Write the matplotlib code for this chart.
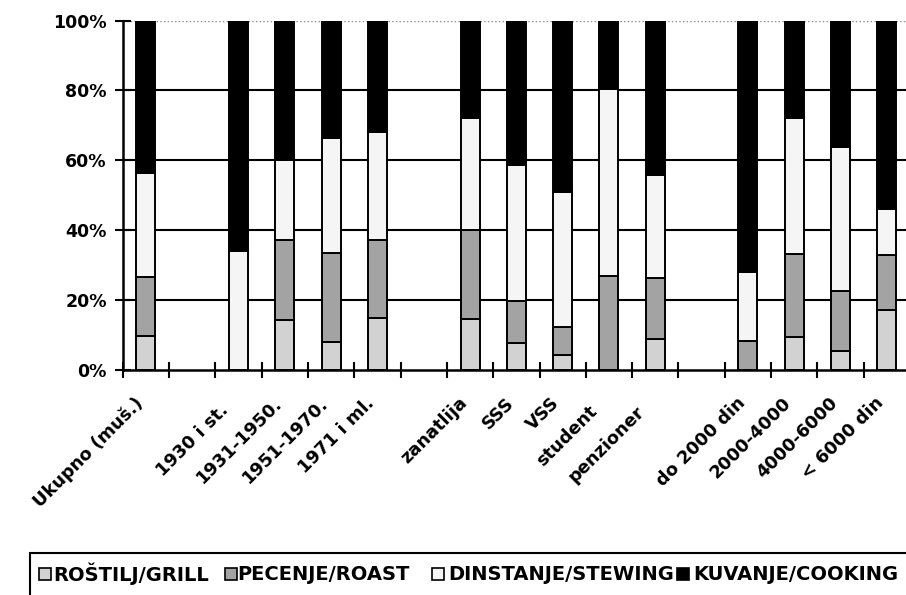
import numpy as np
import matplotlib
matplotlib.use("Agg")
import matplotlib.pyplot as plt
from matplotlib.patches import Rectangle
from matplotlib.transforms import ScaledTranslation

plt.rcParams['font.family'] = ['DejaVu Sans']
plt.rcParams['font.weight'] = 'bold'

# categories ('' = empty slot between groups)
categories = ['Ukupno (muš.)', '', '1930 i st.', '1931-1950.', '1951-1970.', '1971 i ml.', '',
              'zanatlija', 'SSS', 'VSS', 'student', 'penzioner', '',
              'do 2000 din', '2000-4000', '4000-6000', '< 6000 din']

# shares in %
grill   = [9.7, 0, 0.0, 14.3, 8.1, 15.0, 0, 14.6, 7.8, 4.3, 0.0, 8.8, 0, 0.0, 9.5, 5.4, 17.3]
roast   = [17.0, 0, 0.0, 23.0, 25.5, 22.3, 0, 25.4, 11.9, 8.1, 26.9, 17.4, 0, 8.4, 23.8, 17.3, 15.6]
stewing = [29.8, 0, 34.0, 22.7, 32.9, 30.8, 0, 32.2, 38.9, 38.4, 53.4, 29.5, 0, 19.5, 38.9, 41.1, 13.1]
cooking = [43.5, 0, 66.0, 40.0, 33.5, 31.9, 0, 27.8, 41.4, 49.2, 19.7, 44.3, 0, 72.1, 27.8, 36.2, 54.0]

series = [grill, roast, stewing, cooking]
names = ['ROŠTILJ/GRILL', 'PECENJE/ROAST', 'DINSTANJE/STEWING', 'KUVANJE/COOKING']
colors = ['#d2d2d2', '#a3a3a3', '#f5f5f5', '#000000']

# some labels sit a bit further down their slant in the original (px along text)
label_nudge = [0, 0, 10, 0, 0, 0, 0, 0, 0, 0, 12, 12, 0, 0, 0, 0, 0]

W, H = 906, 595
fig = plt.figure(figsize=(W / 100, H / 100), dpi=100)
ax = fig.add_axes([122.7 / W, 1 - 370 / H, (910 - 122.7) / W, (370 - 20.5) / H])

x = np.arange(len(categories))
bottom = np.zeros(len(categories))
for vals, c in zip(series, colors):
    v = np.array(vals, dtype=float)
    mask = v > 0
    ax.bar(x[mask], v[mask], bottom=bottom[mask], width=0.41, color=c,
           edgecolor='black', linewidth=1.4, zorder=3)
    bottom += v

ax.set_xlim(-0.5, len(categories) - 0.5)
ax.set_ylim(0, 100)
ax.set_yticks(np.arange(0, 101, 20))
ax.set_yticklabels([f'{t}%' for t in range(0, 101, 20)], fontsize=12.5, fontweight='bold')
for t in range(20, 100, 20):
    ax.axhline(t, color='black', lw=1.5, zorder=1)
ax.axhline(100, color='#888888', lw=1.0, ls=':', zorder=1)

ax.set_xticks(np.arange(-0.5, len(categories), 1.0))
ax.set_xticklabels([])
ax.tick_params(axis='x', direction='inout', length=12, width=1.5)
ax.tick_params(axis='y', direction='inout', length=11, width=1.5, pad=6)
for s in ['top', 'right']:
    ax.spines[s].set_visible(False)
for s in ['left', 'bottom']:
    ax.spines[s].set_linewidth(1.8)

# rotated category labels
k = np.sqrt(0.5)
for xi, lab, nd in zip(x, categories, label_nudge):
    if lab:
        off = ScaledTranslation((-12 - nd * k) / 100, (-24 - nd * k) / 100, fig.dpi_scale_trans)
        ax.text(xi, 0, lab, transform=ax.get_xaxis_transform() + off,
                rotation=45, ha='right', va='top', rotation_mode='anchor',
                fontsize=12.8, fontweight='bold')

# legend box, drawn by hand to match the original layout
fig.patches.append(Rectangle((30 / W, -0.05), (920 - 30) / W, 0.05 + 1 - 553 / H,
                             transform=fig.transFigure, fill=False,
                             edgecolor='black', linewidth=1.5))
sq_x = [39, 225, 432, 677]
tx_x = [53, 237, 448, 693]
yc = 1 - 574 / H
for sx, tx, c, n in zip(sq_x, tx_x, colors, names):
    fig.patches.append(Rectangle((sx / W, yc - 6 / H), 12 / W, 12 / H,
                                 transform=fig.transFigure, facecolor=c,
                                 edgecolor='black', linewidth=1.2))
    fig.text(tx / W, yc, n, ha='left', va='center', fontsize=14, fontweight='bold')

fig.savefig('out.png', dpi=100)
